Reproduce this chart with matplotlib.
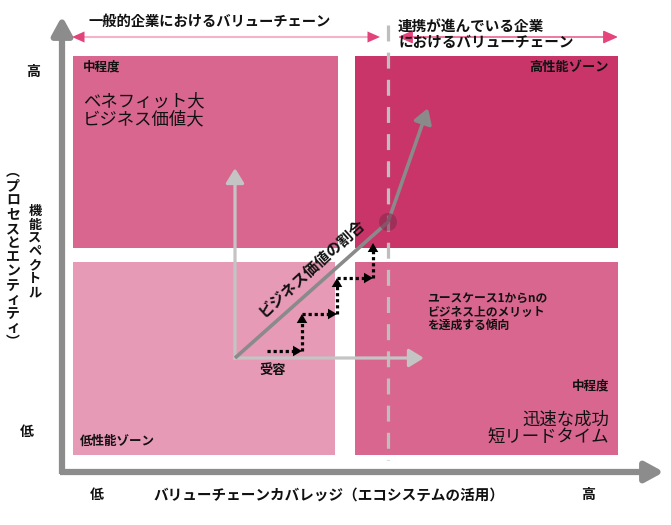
import matplotlib
matplotlib.use("Agg")
import matplotlib.pyplot as plt
from matplotlib.patches import Rectangle, FancyArrowPatch, Circle

plt.rcParams['font.family'] = ['Noto Sans CJK JP', 'DejaVu Sans']

# --- diagram content (pixel layout of the 671x525 picture) ---
zone_boxes = [(73, 56, 338, 248), (355, 56, 618, 248),
              (73, 262, 335, 455), (355, 262, 618, 455)]
zone_colors = ['#D9668E', '#C93469', '#E69AB5', '#D9668E']

value_path_x = [235, 388, 428]
value_path_y = [358, 222, 108]

step_x = [267, 302, 302, 337, 337, 373, 373]
step_y = [351, 351, 314, 314, 278, 278, 243]

y_label_main = "機能スペクトル"
y_label_sub = "︵プロセスとエンティティ︶"
x_label = "バリューチェーンカバレッジ（エコシステムの活用）"
left_chain = "一般的企業におけるバリューチェーン"
right_chain = "連携が進んでいる企業\nにおけるバリューチェーン"

fig = plt.figure(figsize=(6.71, 5.25), dpi=100)
ax = fig.add_axes([0, 0, 1, 1])
ax.set_xlim(0, 671)
ax.set_ylim(525, 0)
ax.axis('off')


def arrow(x0, y0, x1, y1, color, lw, hl, hw, style='-|>', z=3):
    a = FancyArrowPatch((x0, y0), (x1, y1),
                        arrowstyle=f"{style},head_length={hl},head_width={hw}",
                        color=color, lw=lw, shrinkA=0, shrinkB=0,
                        mutation_scale=10, zorder=z, capstyle='butt')
    ax.add_patch(a)


# quadrants
for (x0, y0, x1, y1), c in zip(zone_boxes, zone_colors):
    ax.add_patch(Rectangle((x0, y0), x1 - x0, y1 - y0, color=c, lw=0, zorder=1))

# main axes
arrow(62, 474, 62, 16, '#8C8C8C', 4.5, 1.1, 0.6)
arrow(60, 472, 664, 472, '#8C8C8C', 4.5, 1.1, 0.6)

# dashed separator
ax.plot([388, 388], [25, 460], color='#BEBEBE', lw=2.3, dashes=(5, 3.5), zorder=2)

# top chain arrows
ax.plot([80, 372], [37, 37], color='#F5B3C9', lw=1.5, zorder=2)
arrow(80, 37, 72, 37, '#E3437B', 0, 0.9, 0.4)
arrow(372, 37, 380, 37, '#E3437B', 0, 0.9, 0.4)
arrow(398, 37, 618, 37, '#E5447D', 1.0, 0.9, 0.4, style='<|-|>')

# inner light axes
arrow(235, 360, 235, 168, '#C4C4C4', 2.3, 0.9, 0.55)
arrow(233, 358, 424, 358, '#C4C4C4', 2.3, 0.9, 0.55)

# business value line
ax.plot(value_path_x[:2], value_path_y[:2], color='#8A8A8A', lw=2.6,
        solid_capstyle='butt', zorder=4)
arrow(value_path_x[1], value_path_y[1], value_path_x[2], value_path_y[2],
      '#8A8A8A', 2.6, 0.9, 0.55, z=4)
ax.add_patch(Circle((value_path_x[1], value_path_y[1]), 9, color='#7D2B4C',
                    alpha=0.55, lw=0, zorder=5))

# dotted steps: dotted shaft + solid head
head = 7
for i in range(len(step_x) - 1):
    x0, y0, x1, y1 = step_x[i], step_y[i], step_x[i + 1], step_y[i + 1]
    d = ((x1 - x0) ** 2 + (y1 - y0) ** 2) ** 0.5
    ux, uy = (x1 - x0) / d, (y1 - y0) / d
    ax.plot([x0, x1 - ux * head], [y0, y1 - uy * head], color='black', lw=2.3,
            linestyle=(0, (1, 0.9)), solid_capstyle='butt', zorder=6)
    arrow(x1 - ux * head, y1 - uy * head, x1, y1, 'black', 0, 0.65, 0.38, z=6)

b = dict(weight='bold', color='#111111')
ax.text(88, 22, left_chain, fontsize=10.3, va='center', ha='left', **b)
ax.text(398, 34, right_chain, fontsize=10.5, va='center', ha='left',
        linespacing=1.05, **b)

ax.text(83, 67, "中程度", fontsize=9, va='center', **b)
ax.text(83, 110, "ベネフィット大\nビジネス価値大", fontsize=12.5, va='center',
        linespacing=1.0, color='#111111')
ax.text(609, 67, "高性能ゾーン", fontsize=9.5, va='center', ha='right', **b)
ax.text(427, 312, "ユースケース1からnの\nビジネス上のメリット\nを達成する傾向",
        fontsize=8.5, va='center', linespacing=1.05, **b)
ax.text(609, 386, "中程度", fontsize=9, va='center', ha='right', **b)
ax.text(609, 429, "迅速な成功\n短リードタイム", fontsize=12.5, va='center',
        ha='right', linespacing=1.0, color='#111111')
ax.text(80, 441, "低性能ゾーン", fontsize=9, va='center', **b)
ax.text(273, 370, "受容", fontsize=9.5, va='center', ha='center', **b)
ax.text(311, 268, "ビジネス価値の割合", fontsize=11, va='center', ha='center',
        rotation=42, rotation_mode='anchor', **b)

ax.text(33, 72, "高", fontsize=10, va='center', ha='center', **b)
ax.text(27, 432, "低", fontsize=10, va='center', ha='center', **b)
ax.text(97, 495, "低", fontsize=10, va='center', ha='center', **b)
ax.text(588, 495, "高", fontsize=10, va='center', ha='center', **b)
ax.text(329, 495, x_label, fontsize=10.5, va='center', ha='center', **b)

# vertical y label (stacked characters)
for i, ch in enumerate(y_label_main):
    ax.text(35, 211 + i * 13.5, ch, fontsize=9.5, va='center', ha='center', **b)
for i, ch in enumerate(y_label_sub):
    ax.text(13, 172 + i * 14.2, ch, fontsize=10, va='center', ha='center', **b)

fig.savefig("out.png", dpi=100)
